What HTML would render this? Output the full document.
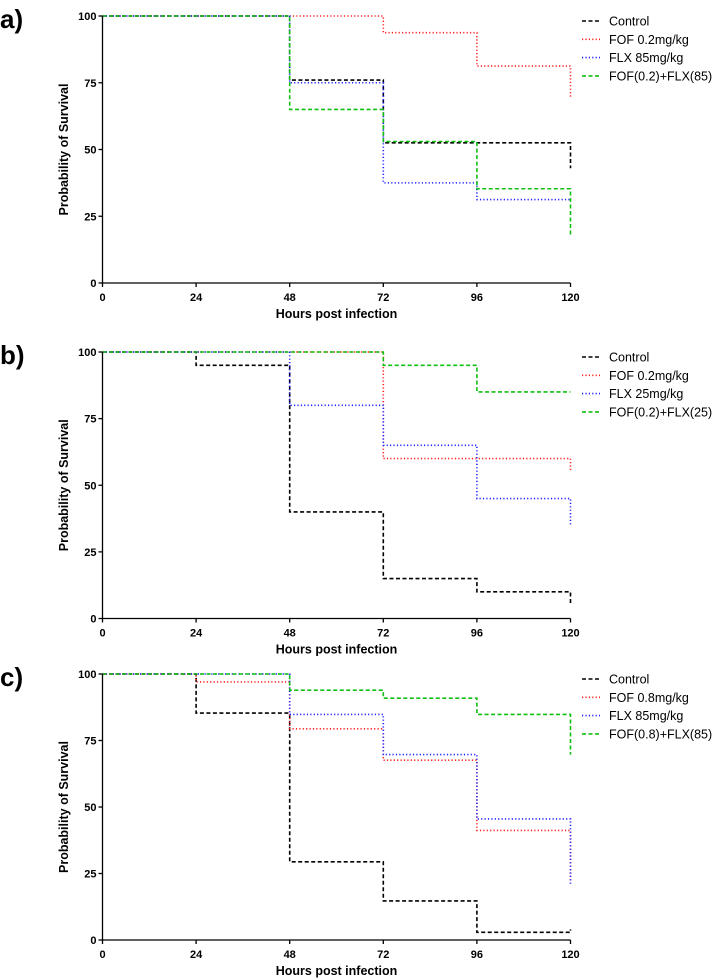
<!DOCTYPE html>
<html><head><meta charset="utf-8">
<style>
html,body{margin:0;padding:0;background:#fff;}
svg{display:block;font-family:"Liberation Sans",Arial,sans-serif;}
.tick{font-size:11px;font-weight:bold;}
.lab{font-size:12.5px;font-weight:bold;}
.leg{font-size:12.5px;}
.pl{font-size:26px;font-weight:bold;}
</style></head>
<body>
<svg id="fig" width="718" height="979" viewBox="0 0 718 979"></svg>
<script>
const hours = [0, 24, 48, 72, 96, 120];
const yTicks = [0, 25, 50, 75, 100];
const panelLetters = ["a)", "b)", "c)"];
const seriesStyles = [
  {color:"#000", dash:"4,2.5"},
  {color:"#ff2020", dash:"1.2,2.2"},
  {color:"#2020ff", dash:"1.2,2.2"},
  {color:"#10c010", dash:"4,2.5"}
];
const namesA = ["Control", "FOF 0.2mg/kg", "FLX 85mg/kg", "FOF(0.2)+FLX(85)"];
const namesB = ["Control", "FOF 0.2mg/kg", "FLX 25mg/kg", "FOF(0.2)+FLX(25)"];
const namesC = ["Control", "FOF 0.8mg/kg", "FLX 85mg/kg", "FOF(0.8)+FLX(85)"];
// survival value at start of each interval [0-24,24-48,48-72,72-96,96-120] then value at 120 (end drop)
const a_control = [100, 100, 76, 52.5, 52.5, 43];
const a_fof = [100, 100, 100, 93.75, 81.25, 69];
const a_flx = [100, 100, 75, 37.5, 31.25, 31.25];
const a_combo = [100, 100, 65, 53, 35.3, 17.6];
const b_control = [100, 95, 40, 15, 10, 5];
const b_fof = [100, 100, 100, 60, 60, 55];
const b_flx = [100, 100, 80, 65, 45, 35];
const b_combo = [100, 100, 100, 95, 85, 85];
const c_control = [100, 85.3, 29.4, 14.7, 2.9, 4];
const c_fof = [100, 97, 79.4, 67.6, 41.2, 22];
const c_flx = [100, 100, 84.8, 69.7, 45.5, 21];
const c_combo = [100, 100, 93.9, 90.9, 84.8, 69.7];

const panels = [
  {top:16, bottom:283, names:namesA, series:[a_control,a_fof,a_flx,a_combo], legY:21},
  {top:352, bottom:618.5, names:namesB, series:[b_control,b_fof,b_flx,b_combo], legY:357},
  {top:674, bottom:940, names:namesC, series:[c_control,c_fof,c_flx,c_combo], legY:679}
];
const NS="http://www.w3.org/2000/svg";
const svg=document.getElementById('fig');
function mk(tag,attrs,parent){const e=document.createElementNS(NS,tag);for(const k in attrs)e.setAttribute(k,attrs[k]);(parent||svg).appendChild(e);return e;}
const X0=102.5, X1=570.5;
const xs=h=>X0+(h/120)*(X1-X0);
panels.forEach((p,pi)=>{
  const ys=v=>p.bottom-(v/100)*(p.bottom-p.top);
  const g=mk('g',{});
  
  
  const pl=mk('text',{x:0,y:p.top+12,class:'pl'},g);pl.textContent=panelLetters[pi];
  
  
  // series
  p.series.forEach((s,si)=>{
    let d='M'+xs(0)+','+ys(s[0]);
    for(let i=0;i<5;i++){
      if(i>0) d+=' V'+ys(s[i]);
      d+=' H'+xs(hours[i+1]);
    }
    d+=' V'+ys(s[5]);
    const path=mk('path',{d:d,fill:'none',stroke:seriesStyles[si].color,'stroke-width':1.6,'stroke-dasharray':seriesStyles[si].dash},g);
    
    
  });
  // axes
  const ax=mk('path',{d:'M'+X0+','+p.top+' V'+p.bottom+' H'+X1,fill:'none',stroke:'#000','stroke-width':1.3},g);
  
  
  yTicks.forEach(t=>{
    const y=ys(t);
    mk('line',{x1:X0-4,x2:X0,y1:y,y2:y,stroke:'#000','stroke-width':1.3},g);
    const tx=mk('text',{x:X0-6,y:y+4,class:'tick','text-anchor':'end'},g);tx.textContent=t;
    
    
  });
  hours.forEach(h=>{
    const x=xs(h);
    mk('line',{x1:x,x2:x,y1:p.bottom,y2:p.bottom+4,stroke:'#000','stroke-width':1.3},g);
    const tx=mk('text',{x:x,y:p.bottom+18,class:'tick','text-anchor':'middle'},g);tx.textContent=h;
    
    
  });
  const xt=mk('text',{x:(X0+X1)/2,y:p.bottom+35,class:'lab','text-anchor':'middle'},g);xt.textContent='Hours post infection';
  
  
  const cy=(p.top+p.bottom)/2;
  const yt=mk('text',{x:68,y:cy,class:'lab','text-anchor':'middle',transform:'rotate(-90 68 '+cy+')'},g);yt.textContent='Probability of Survival';
  
  
  // legend
  p.names.forEach((n,i)=>{
    const y=p.legY+i*18.3;
    const ln=mk('line',{x1:582,x2:600,y1:y,y2:y,stroke:seriesStyles[i].color,'stroke-width':1.6,'stroke-dasharray':seriesStyles[i].dash},g);
    
    
    const t=mk('text',{x:609,y:y+4.5,class:'leg'},g);t.textContent=n;
    
    
  });
});
</script>
</body></html>
